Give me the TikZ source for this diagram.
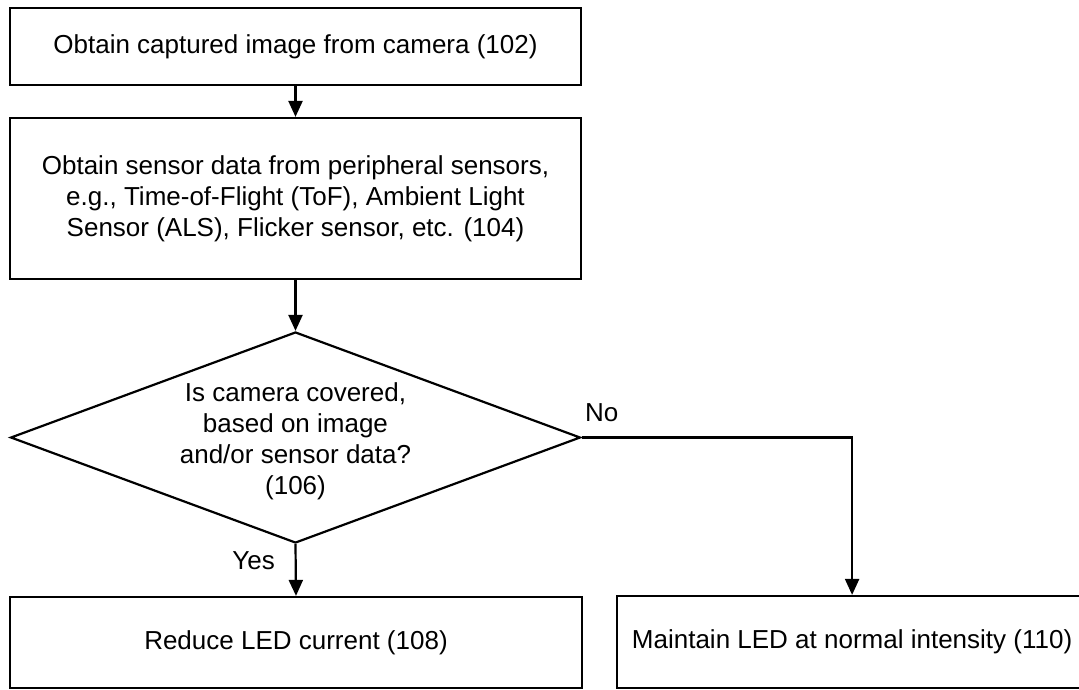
\documentclass[tikz,border=0pt]{standalone}
\usepackage{fontspec}
\setmainfont{Liberation Sans}
\usetikzlibrary{shapes.geometric,arrows.meta}
\begin{document}
\begin{tikzpicture}[x=1pt,y=-1pt,
  every node/.style={font=\fontsize{26}{31}\selectfont},
  stepbox/.style={draw=black,line width=2.2pt,rectangle,inner sep=0pt,align=center},
  decide/.style={draw=black,line width=2.2pt,diamond,aspect=2.7,inner sep=0pt,align=center,minimum width=568pt,minimum height=210pt},
  arr/.style={line width=2.2pt,-{Triangle[width=14pt,length=16pt]}},
  lbl/.style={inner sep=0pt}]
\useasboundingbox (0,0) rectangle (1079,689);
\clip (0,0) rectangle (1079,689);
\node[stepbox,minimum width=571pt,minimum height=77pt] (s1) at (295.5,46.5) {Obtain captured image from camera (102)};
\node[stepbox,minimum width=571pt,minimum height=161pt] (s2) at (295.5,198.5) {Obtain sensor data from peripheral sensors,\\ e.g., Time-of-Flight (ToF), Ambient Light\\ Sensor (ALS), Flicker sensor, etc. (104)};
\node[decide] (d) at (295.5,437.5) {\rule{0pt}{27pt}Is camera covered,\\ based on image\\ and/or sensor data?\\ (106)};
\node[stepbox,minimum width=572pt,minimum height=91pt] (s3) at (296,642.5) {Reduce LED current (108)};
\node[stepbox,anchor=west,inner xsep=14pt,minimum width=470pt,minimum height=92pt] (s4) at (616,642) {Maintain LED at normal intensity (110)};
\draw[arr] (s1.south) -- (s2.north);
\draw[arr] (s2.south) -- (d.north);
\draw[arr] (d.south) -- (s3.north);
\draw[arr] (d.east) -| (s4.north);
\node[lbl,anchor=west] (no) at (585,413) {No};
\node[lbl,anchor=east] (yes) at (275,561) {Yes};
\end{tikzpicture}
\end{document}
